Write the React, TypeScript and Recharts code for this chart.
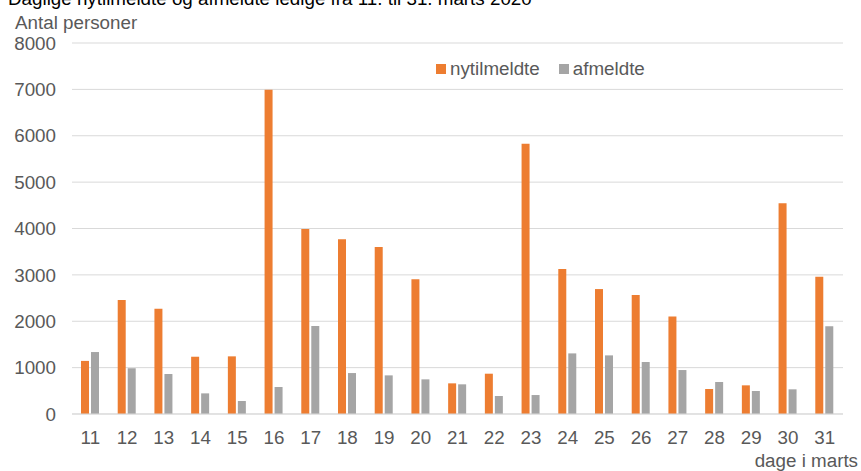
import { BarChart, Bar, XAxis, YAxis, CartesianGrid } from "recharts";

const days = ["11", "12", "13", "14", "15", "16", "17", "18", "19", "20", "21", "22", "23", "24", "25", "26", "27", "28", "29", "30", "31"];
const nytilmeldte = [1145, 2457, 2270, 1235, 1243, 6990, 3990, 3770, 3600, 2903, 661, 869, 5826, 3125, 2694, 2565, 2105, 539, 618, 4547, 2960];
const afmeldte = [1336, 985, 862, 445, 280, 582, 1897, 883, 833, 747, 640, 388, 409, 1307, 1264, 1121, 948, 690, 496, 532, 1890];
const yTicks = [0, 1000, 2000, 3000, 4000, 5000, 6000, 7000, 8000];

const ORANGE = "#ED7D31";
const GRAY = "#A5A5A5";
const TEXT = "#595959";
const FONT = "'Liberation Sans', Arial, sans-serif";
const FS = 18.8;

const data = days.map((d, i) => ({ day: d, nytilmeldte: nytilmeldte[i], afmeldte: afmeldte[i] }));

// legend drawn by hand, a Recharts <Legend> would shrink the plot area
function LegendBox() {
  const items = [
    { name: "nytilmeldte", color: ORANGE },
    { name: "afmeldte", color: GRAY },
  ];
  return (
    <div
      style={{
        position: "absolute",
        left: 436,
        top: 58,
        display: "flex",
        alignItems: "center",
        gap: 19,
        fontFamily: FONT,
        fontSize: FS,
        color: TEXT,
        lineHeight: "22px",
      }}
    >
      {items.map((it) => (
        <div key={it.name} style={{ display: "flex", alignItems: "center", gap: 4 }}>
          <span style={{ width: 10, height: 10, background: it.color, display: "inline-block" }} />
          <span>{it.name}</span>
        </div>
      ))}
    </div>
  );
}

export default function App() {
  return (
    <div style={{ position: "absolute", left: 0, top: 0, width: 861, height: 471, background: "#fff", overflow: "hidden", fontFamily: FONT }}>
      <BarChart
        width={861}
        height={471}
        data={data}
        margin={{ top: 43, right: 18, left: 0, bottom: 0 }}
        barSize={8}
        barGap={2}
      >
        <CartesianGrid vertical={false} stroke="#D9D9D9" />
        <XAxis
          dataKey="day"
          height={57}
          tickLine={false}
          tickSize={0}
          tickMargin={17}
          axisLine={{ stroke: "#D9D9D9" }}
          tick={{ fill: TEXT, fontSize: FS, fontFamily: FONT }}
          interval={0}
        />
        <YAxis
          width={72}
          domain={[0, 8000]}
          ticks={yTicks}
          axisLine={false}
          tickLine={false}
          tickSize={0}
          tickMargin={16}
          tick={{ fill: TEXT, fontSize: FS, fontFamily: FONT }}
        />
        <Bar dataKey="nytilmeldte" fill={ORANGE} isAnimationActive={false} />
        <Bar dataKey="afmeldte" fill={GRAY} isAnimationActive={false} />
      </BarChart>
      <LegendBox />
      <svg width={861} height={471} style={{ position: "absolute", left: 0, top: 0, pointerEvents: "none" }}>
        <text x={8} y={5} fontSize={FS} fill="#000" fontFamily={FONT}>
          Daglige nytilmeldte og afmeldte ledige fra 11. til 31. marts 2020
        </text>
        <text x={15} y={29} fontSize={FS} fill={TEXT} fontFamily={FONT}>
          Antal personer
        </text>
        <text x={858} y={467} fontSize={FS} fill={TEXT} fontFamily={FONT} textAnchor="end">
          dage i marts
        </text>
      </svg>
    </div>
  );
}
